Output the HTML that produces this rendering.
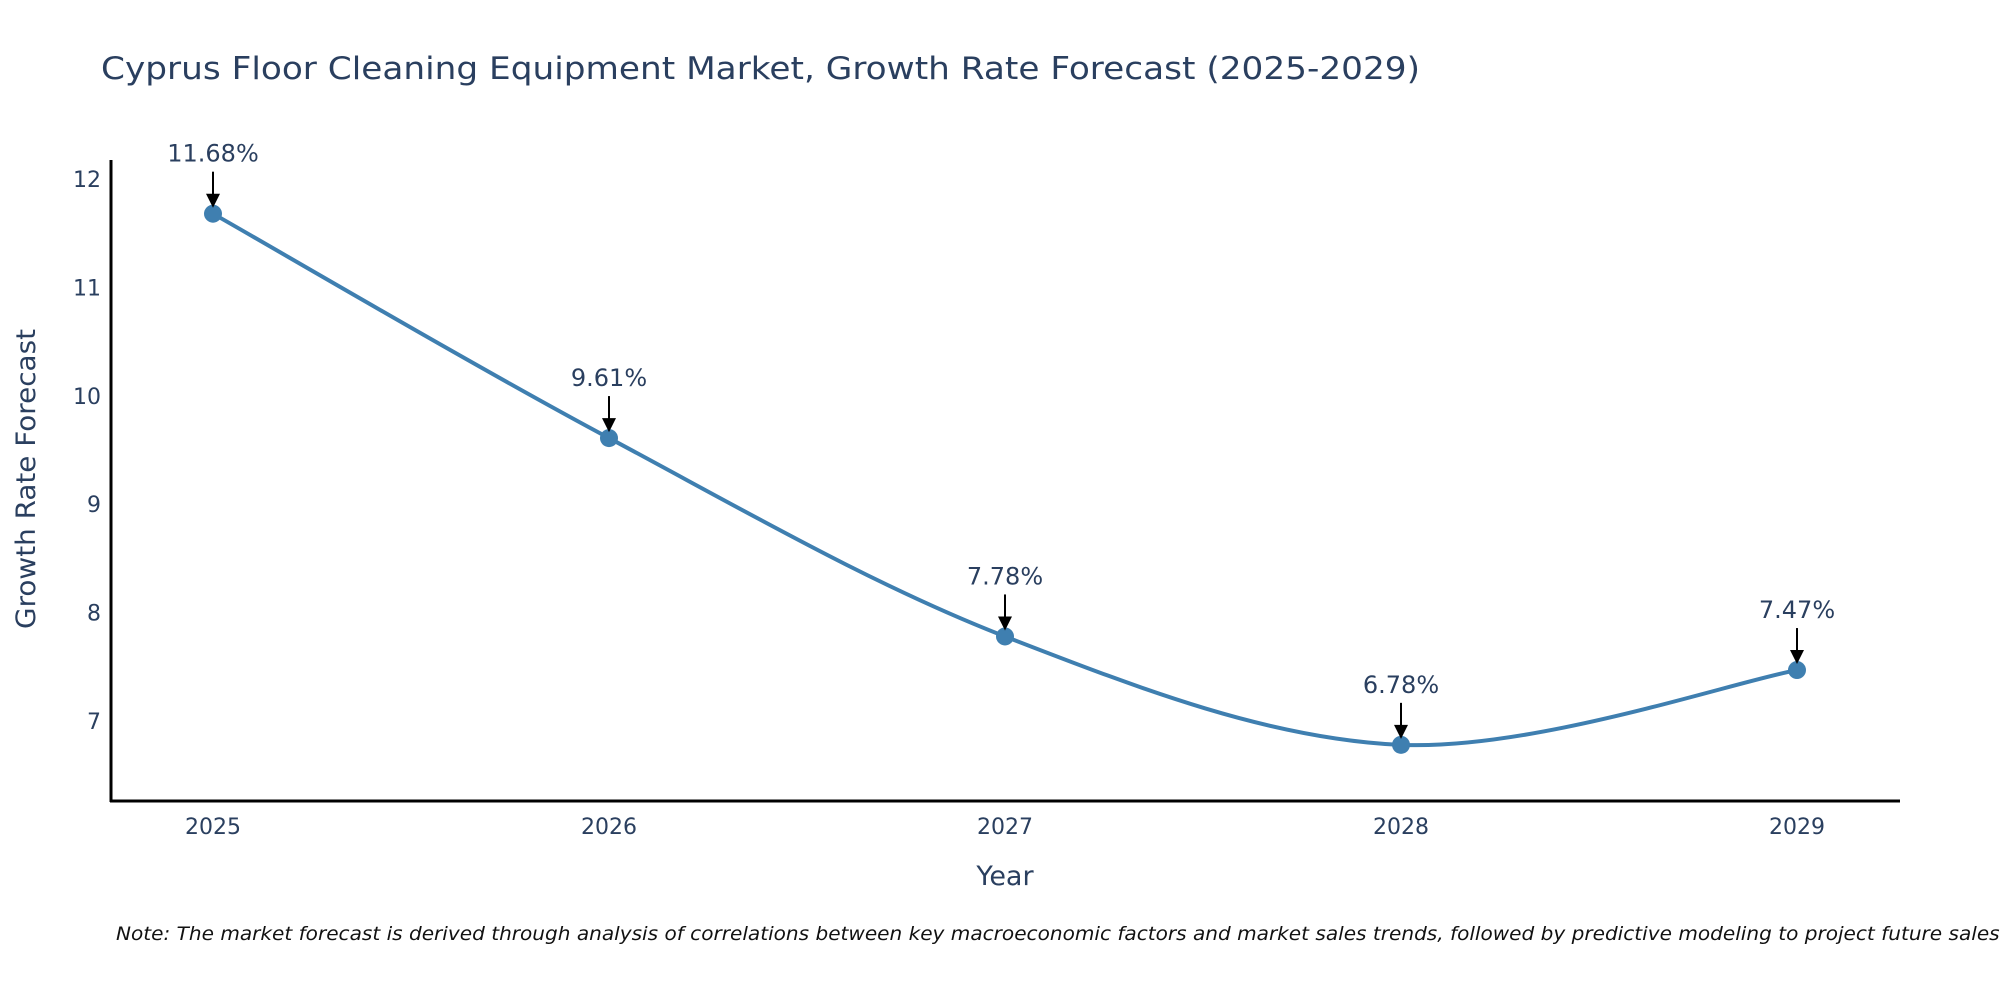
<!DOCTYPE html>
<html><head><meta charset="utf-8"><style>
body{margin:0;background:#fff;}
svg text{font-family:"DejaVu Sans","Liberation Sans",sans-serif;fill:#2a3f5f;}
</style></head><body>
<svg id="chart" width="2000" height="1000" xmlns="http://www.w3.org/2000/svg">
<text x="101" y="79" font-size="31" textLength="1319" lengthAdjust="spacingAndGlyphs">Cyprus Floor Cleaning Equipment Market, Growth Rate Forecast (2025-2029)</text>
<line x1="111" y1="160" x2="111" y2="802" stroke="#000" stroke-width="3"/>
<line x1="110" y1="801" x2="1900" y2="801" stroke="#000" stroke-width="3"/>
<g id="yticks"></g><g id="xticks"></g>
<path id="line" fill="none" stroke="#3f7fb0" stroke-width="4"/>
<g id="marks"></g>
<text transform="translate(35,479) rotate(-90)" text-anchor="middle" font-size="27" textLength="300" lengthAdjust="spacingAndGlyphs">Growth Rate Forecast</text>
<text x="1005" y="885" text-anchor="middle" font-size="27">Year</text>
<text x="116" y="940" font-size="19" font-style="italic" textLength="1890" lengthAdjust="spacingAndGlyphs" style="fill:#111">Note: The market forecast is derived through analysis of correlations between key macroeconomic factors and market sales trends, followed by predictive modeling to project future sales.</text>
</svg>
<script>
const years=["2025","2026","2027","2028","2029"];
const values=[11.68,9.61,7.78,6.78,7.47];
const labels=["11.68%","9.61%","7.78%","6.78%","7.47%"];
const yTicks=[7,8,9,10,11,12];
const NS="http://www.w3.org/2000/svg";
function xs(i){return 213+i*(1797-213)/(years.length-1);}
function ys(v){return 179+(12-v)*108.4;}
function mk(t,a,p){const e=document.createElementNS(NS,t);for(const k in a)e.setAttribute(k,a[k]);p.appendChild(e);return e;}
const yt=document.getElementById('yticks');
yTicks.forEach(v=>{const t=mk('text',{x:101,y:ys(v)+8,'text-anchor':'end','font-size':22},yt);t.textContent=v;

});
const xt=document.getElementById('xticks');
years.forEach((y,i)=>{const t=mk('text',{x:xs(i),y:834,'text-anchor':'middle','font-size':22},xt);t.textContent=y;

});
const P=values.map((v,i)=>[xs(i),ys(v)]);
let d=`M${P[0][0]},${P[0][1]}`;
for(let i=0;i<P.length-1;i++){const p0=P[Math.max(0,i-1)],p1=P[i],p2=P[i+1],p3=P[Math.min(P.length-1,i+2)];
const c1=[p1[0]+(p2[0]-p0[0])/6,p1[1]+(p2[1]-p0[1])/6],c2=[p2[0]-(p3[0]-p1[0])/6,p2[1]-(p3[1]-p1[1])/6];
d+=` C${c1[0]},${c1[1]} ${c2[0]},${c2[1]} ${p2[0]},${p2[1]}`;}
document.getElementById('line').setAttribute('d',d);
const mg=document.getElementById('marks');
P.forEach((p,i)=>{
const c=mk('circle',{cx:p[0],cy:p[1],r:9,fill:'#3f7fb0'},mg);


const l=mk('line',{x1:p[0],y1:p[1]-42,x2:p[0],y2:p[1]-18,stroke:'#000','stroke-width':2},mg);


const h=mk('polygon',{points:`${p[0]-7},${p[1]-20} ${p[0]+7},${p[1]-20} ${p[0]},${p[1]-6}`,fill:'#000'},mg);


const t=mk('text',{x:p[0],y:p[1]-52,'text-anchor':'middle','font-size':24},mg);t.textContent=labels[i];


});
</script>
</body></html>
